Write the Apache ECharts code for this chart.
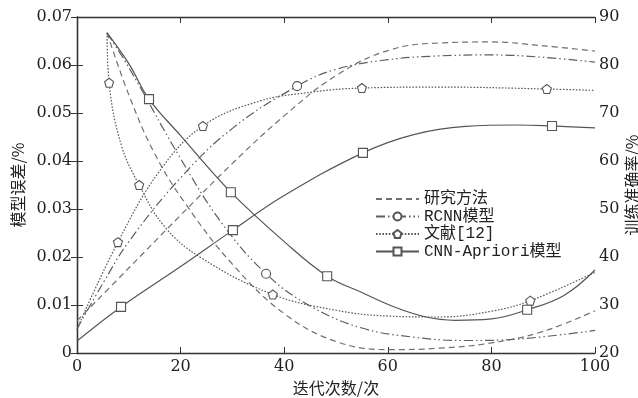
<!DOCTYPE html>
<html><head><meta charset="utf-8">
<script src="https://cdn.jsdelivr.net/npm/echarts@6/dist/echarts.min.js"></script>
<style>html,body{margin:0;padding:0;background:#fff}#c{width:638px;height:398px}</style>
</head><body><div id="c"></div>
<script>
// ---- data (x = iterations) ----
const xTicks = [0, 20, 40, 60, 80, 100];
const names = ['研究方法', 'RCNN模型', '文献[12]', 'CNN-Apriori模型'];
// accuracy curves (right axis, %)
const resAcc = [[0,26.7],[10,37.7],[20,48.7],[30,59.5],[40,69.4],[50,77.8],[60,83.0],[70,84.6],[80,84.8],[90,84.0],[100,82.9]];
const rcnnAcc = [[0,25],[5,34.5],[10,43.2],[20,56.5],[30,66.8],[42.5,75.6],[50,79.1],[60,81.1],[70,81.9],[80,82.1],[90,81.6],[100,80.6]];
const litAcc = [[0,25],[7.9,43.1],[16,58],[24.3,67.3],[35,72.4],[45,74.3],[55,75.2],[70,75.4],[90.7,75.0],[100,74.7]];
const cnnAcc = [[0,22.5],[8.5,29.6],[20,38.0],[30.1,45.6],[40,52.8],[55.2,61.7],[65,65.5],[75,67.2],[85,67.5],[91.7,67.3],[100,66.9]];
// error curves (left axis, %)
const resErr = [[5.8,0.0667],[10,0.0538],[15,0.0415],[21,0.031],[30,0.0185],[40,0.0082],[50,0.0024],[60,0.0007],[70,0.001],[80,0.0021],[90,0.0045],[100,0.0088]];
const rcnnErr = [[5.8,0.0667],[10,0.0595],[20,0.0405],[28,0.027],[36.5,0.0165],[45,0.0098],[55,0.0052],[65,0.0033],[75,0.0026],[85,0.0029],[100,0.0047]];
const litErr = [[5.8,0.0667],[6.2,0.0563],[8.5,0.0435],[12,0.035],[17,0.0262],[24,0.0198],[37.8,0.0122],[50,0.0089],[60,0.0077],[70,0.0075],[80,0.0087],[87.5,0.0109],[100,0.0168]];
const cnnErr = [[5.8,0.0667],[10,0.0603],[13.9,0.0529],[20,0.0453],[29.7,0.0335],[40,0.0232],[48.3,0.0160],[55,0.0126],[61,0.0097],[67,0.0076],[73,0.0068],[80,0.0071],[86.9,0.0090],[94,0.012],[100,0.0173]];
// x positions carrying markers
const rcnnAccMarks = [42.5];
const rcnnErrMarks = [36.5];
const litAccMarks = [7.9, 24.3, 55, 90.7];
const litErrMarks = [6.2, 12, 37.8, 87.5];
const cnnAccMarks = [8.5, 30.1, 55.2, 91.7];
const cnnErrMarks = [13.9, 29.7, 48.3, 86.9];

const pentagon = 'path://M5,0 L10,3.8 L8.1,10 L1.9,10 L0,3.8 Z';
const numFont = 'DejaVu Serif';
const cjkFont = '"Noto Sans CJK SC"';

function mk(name, data, yIdx, color, type, symbol, marks, width) {
  return {
    name, type: 'line', data, yAxisIndex: yIdx, smooth: 0.4,
    symbol: symbol || 'none',
    symbolSize: (v) => (marks && marks.indexOf(v[0]) >= 0) ? 9 : 0,
    showAllSymbol: true,
    lineStyle: { color, width: width || 1.2, type },
    itemStyle: { color: '#fff', borderColor: '#555', borderWidth: 1.1 },
    emphasis: { disabled: true }, animation: false, z: 3
  };
}

const chart = echarts.init(document.getElementById('c'), null, { renderer: 'canvas' });
chart.setOption({
  animation: false,
  grid: { left: 77, right: 43, top: 17, bottom: 45, containLabel: false, outerBoundsMode: 'none' },
  legend: {
    orient: 'vertical', left: 370, top: 186, itemWidth: 43, itemHeight: 10, itemGap: 1.5,
    textStyle: { fontFamily: '"Liberation Mono", ' + cjkFont, fontSize: 16, color: '#222' },
    data: [
      { name: names[0], itemStyle: { opacity: 0 } },
      { name: names[1] }, { name: names[2] }, { name: names[3] }
    ]
  },
  xAxis: [{
    type: 'value', min: 0, max: 100, interval: 20, position: 'bottom',
    name: '迭代次数/次', nameLocation: 'middle', nameGap: 27, nameMoveOverlap: false,
    nameTextStyle: { fontFamily: cjkFont, fontSize: 16, color: '#222' },
    axisLine: { show: true, lineStyle: { color: '#333', width: 1.3 } },
    axisTick: { show: true, inside: true, length: 6, lineStyle: { color: '#333' } },
    axisLabel: { fontFamily: numFont, fontSize: 16, color: '#222', margin: 6 },
    splitLine: { show: false }
  }, {
    type: 'value', min: 0, max: 100, interval: 20, position: 'top',
    axisLine: { show: true, lineStyle: { color: '#333', width: 1.3 } },
    axisTick: { show: true, inside: true, length: 6, lineStyle: { color: '#333' } },
    axisLabel: { show: false }, splitLine: { show: false }
  }],
  yAxis: [{
    type: 'value', min: 0, max: 0.07, interval: 0.01, position: 'left',
    name: '模型误差/%', nameLocation: 'middle', nameGap: 51, nameRotate: 90, nameMoveOverlap: false,
    nameTextStyle: { fontFamily: cjkFont, fontSize: 16, color: '#222' },
    axisLine: { show: true, lineStyle: { color: '#333', width: 1.3 } },
    axisTick: { show: true, inside: true, length: 6, lineStyle: { color: '#333' } },
    axisLabel: { fontFamily: numFont, fontSize: 16, color: '#222', margin: 5 },
    splitLine: { show: false }
  }, {
    type: 'value', min: 20, max: 90, interval: 10, position: 'right',
    name: '训练准确率/%', nameLocation: 'middle', nameGap: 29, nameRotate: 90, nameMoveOverlap: false,
    nameTextStyle: { fontFamily: cjkFont, fontSize: 16, color: '#222' },
    axisLine: { show: true, lineStyle: { color: '#333', width: 1.3 } },
    axisTick: { show: true, inside: true, length: 6, lineStyle: { color: '#333' } },
    axisLabel: { fontFamily: numFont, fontSize: 16, color: '#222', margin: 4 },
    splitLine: { show: false }
  }],
  series: [
    mk(names[0], resErr, 0, '#707070', [6, 4], 'none', null),
    mk(names[0], resAcc, 1, '#707070', [6, 4], 'none', null),
    mk(names[1], rcnnErr, 0, '#5e5e5e', [9, 3, 1.5, 3, 1.5, 3], 'circle', rcnnErrMarks),
    mk(names[1], rcnnAcc, 1, '#5e5e5e', [9, 3, 1.5, 3, 1.5, 3], 'circle', rcnnAccMarks),
    mk(names[2], litErr, 0, '#5a5a5a', [1.6, 1.6], pentagon, litErrMarks),
    mk(names[2], litAcc, 1, '#5a5a5a', [1.6, 1.6], pentagon, litAccMarks),
    mk(names[3], cnnErr, 0, '#555', 'solid', 'rect', cnnErrMarks),
    mk(names[3], cnnAcc, 1, '#555', 'solid', 'rect', cnnAccMarks)
  ]
});
</script></body></html>
